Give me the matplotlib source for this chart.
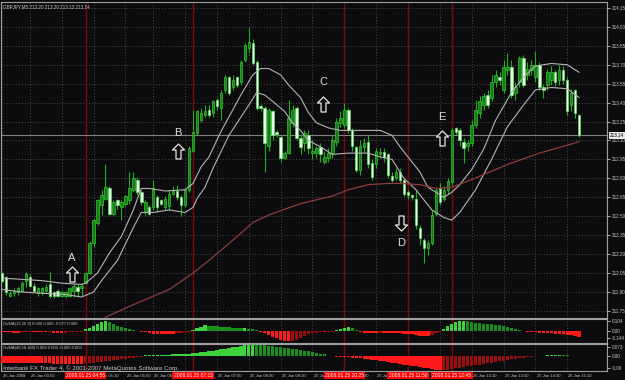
import matplotlib
matplotlib.use("Agg")
import matplotlib.pyplot as plt
import matplotlib.transforms as mtransforms
from matplotlib.path import Path
import numpy as np

plt.rcParams["font.family"] = ["Liberation Sans", "DejaVu Sans"]

# ---------------- data ----------------
header_text = "GBPJPY,M5 213.20 213.20 213.13 213.14"
osma_fast_label = "OsMA(12,26,9) 0.008 0.000 -0.077 0.000"
osma_slow_label = "OsMA(40,50,100) 0.008 0.000 -0.005 0.000"
copyright_text = "Interbank FX Trader 4, \u00a9 2001-2007 MetaQuotes Software Corp."

opens = [212.05, 212.02, 211.87, 211.89, 211.90, 211.91, 211.99, 212.02, 211.95, 211.89,
         211.90, 211.91, 211.96, 211.90, 211.91, 211.87, 211.87, 211.87, 211.91, 211.94,
         211.93, 211.97, 212.05, 212.29, 212.45, 212.59, 212.64, 212.72, 212.52, 212.63,
         212.57, 212.60, 212.63, 212.71, 212.79, 212.69, 212.53, 212.57, 212.57, 212.65,
         212.63, 212.57, 212.58, 212.68, 212.70, 212.65, 212.59, 212.71, 213.02, 213.16,
         213.26, 213.30, 213.34, 213.32, 213.42, 213.36, 213.50, 213.60, 213.52, 213.60,
         213.56, 213.74, 213.83, 213.87, 213.72, 213.37, 213.36, 213.06, 213.33, 213.17,
         213.13, 212.96, 213.00, 213.24, 213.36, 213.12, 213.08, 213.14, 213.00, 213.00,
         213.05, 212.93, 212.96, 213.00, 213.09, 213.24, 213.22, 213.34, 213.18, 213.05,
         212.87, 213.05, 213.09, 212.92, 212.91, 212.99, 213.01, 212.99, 212.82, 212.80,
         212.85, 212.79, 212.69, 212.67, 212.64, 212.41, 212.31, 212.25, 212.29, 212.52,
         212.72, 212.64, 212.71, 212.77, 213.20, 213.18, 213.09, 213.06, 213.08, 213.22,
         213.32, 213.38, 213.46, 213.44, 213.56, 213.60, 213.50, 213.66, 213.68, 213.48,
         213.56, 213.75, 213.62, 213.66, 213.60, 213.70, 213.52, 213.54, 213.58, 213.64,
         213.58, 213.66, 213.58, 213.38, 213.50, 213.30]
highs = [212.06, 212.03, 211.91, 211.93, 211.94, 211.99, 212.06, 212.04, 211.97, 211.94,
         211.94, 211.96, 212.06, 211.91, 211.92, 211.91, 211.91, 211.94, 211.97, 211.96,
         211.97, 212.06, 212.30, 212.48, 212.64, 212.71, 212.91, 212.74, 212.63, 212.64,
         212.63, 212.67, 212.85, 212.85, 212.81, 212.71, 212.63, 212.59, 212.79, 212.67,
         212.64, 212.66, 212.71, 212.74, 212.75, 212.67, 212.72, 213.06, 213.34, 213.34,
         213.36, 213.38, 213.38, 213.42, 213.44, 213.50, 213.62, 213.61, 213.62, 213.61,
         213.74, 213.87, 214.00, 213.90, 213.74, 213.39, 213.37, 213.36, 213.34, 213.18,
         213.14, 213.02, 213.42, 213.38, 213.37, 213.14, 213.18, 213.18, 213.10, 213.06,
         213.08, 213.02, 213.04, 213.14, 213.28, 213.33, 213.40, 213.36, 213.20, 213.06,
         213.10, 213.12, 213.14, 212.95, 213.04, 213.04, 213.04, 213.00, 212.85, 212.88,
         212.88, 212.80, 212.71, 212.68, 212.71, 212.43, 212.33, 212.31, 212.55, 212.72,
         212.76, 212.74, 212.80, 213.20, 213.21, 213.20, 213.12, 213.10, 213.26, 213.42,
         213.45, 213.48, 213.50, 213.62, 213.66, 213.64, 213.74, 213.79, 213.74, 213.56,
         213.77, 213.78, 213.72, 213.74, 213.81, 213.72, 213.55, 213.67, 213.69, 213.66,
         213.70, 213.69, 213.60, 213.51, 213.51, 213.31]
lows = [211.98, 211.88, 211.86, 211.87, 211.88, 211.90, 211.94, 211.94, 211.90, 211.87,
        211.88, 211.90, 211.85, 211.85, 211.86, 211.86, 211.85, 211.86, 211.86, 211.87,
        211.87, 211.96, 212.04, 212.26, 212.43, 212.51, 212.63, 212.51, 212.51, 212.56,
        212.47, 212.58, 212.60, 212.69, 212.67, 212.59, 212.51, 212.51, 212.55, 212.53,
        212.59, 212.55, 212.55, 212.67, 212.63, 212.50, 212.57, 212.69, 213.01, 213.14,
        213.25, 213.29, 213.29, 213.29, 213.34, 213.26, 213.48, 213.46, 213.50, 213.52,
        213.54, 213.72, 213.80, 213.70, 213.34, 213.33, 212.85, 213.02, 213.10, 213.13,
        212.93, 212.95, 212.99, 213.21, 213.10, 212.99, 213.02, 212.99, 212.95, 212.96,
        212.93, 212.91, 212.93, 212.96, 213.06, 213.21, 213.20, 213.16, 213.02, 212.85,
        212.83, 213.01, 212.88, 212.79, 212.88, 212.96, 212.93, 212.80, 212.77, 212.79,
        212.76, 212.66, 212.64, 212.63, 212.40, 212.27, 212.13, 212.19, 212.27, 212.50,
        212.59, 212.62, 212.68, 212.75, 213.14, 213.06, 212.92, 213.02, 213.06, 213.20,
        213.28, 213.34, 213.36, 213.41, 213.52, 213.54, 213.48, 213.62, 213.44, 213.42,
        213.52, 213.52, 213.58, 213.62, 213.56, 213.50, 213.44, 213.50, 213.54, 213.53,
        213.54, 213.55, 213.30, 213.33, 213.28, 213.13]
closes = [211.99, 211.90, 211.89, 211.91, 211.93, 211.97, 212.04, 211.95, 211.91, 211.93,
          211.93, 211.94, 211.87, 211.87, 211.87, 211.90, 211.90, 211.93, 211.95, 211.91,
          211.95, 212.05, 212.29, 212.47, 212.63, 212.67, 212.73, 212.52, 212.61, 212.59,
          212.61, 212.66, 212.72, 212.80, 212.69, 212.61, 212.61, 212.52, 212.72, 212.57,
          212.60, 212.64, 212.68, 212.71, 212.65, 212.59, 212.71, 213.04, 213.17, 213.33,
          213.32, 213.33, 213.30, 213.41, 213.37, 213.48, 213.60, 213.48, 213.58, 213.54,
          213.72, 213.86, 213.88, 213.71, 213.36, 213.36, 213.08, 213.34, 213.14, 213.15,
          212.96, 213.00, 213.28, 213.34, 213.12, 213.05, 213.16, 213.04, 213.02, 213.04,
          212.99, 212.97, 213.00, 213.10, 213.25, 213.28, 213.34, 213.18, 213.06, 212.87,
          213.06, 213.08, 212.91, 212.81, 213.02, 213.01, 212.97, 212.83, 212.79, 212.85,
          212.79, 212.68, 212.67, 212.65, 212.43, 212.33, 212.25, 212.29, 212.51, 212.71,
          212.61, 212.71, 212.78, 213.18, 213.17, 213.10, 213.04, 213.08, 213.22, 213.34,
          213.41, 213.45, 213.38, 213.56, 213.62, 213.58, 213.68, 213.68, 213.46, 213.52,
          213.75, 213.54, 213.67, 213.70, 213.70, 213.52, 213.50, 213.64, 213.64, 213.56,
          213.66, 213.58, 213.33, 213.48, 213.32, 213.14]

# moving averages (read at selected bars)
ma_upper_bars = [0, 5, 10, 15, 20, 21, 24, 27, 30, 33, 35, 37, 41, 46, 48, 50, 52, 55, 60, 63,
                 65, 67, 70, 72, 75, 77, 79, 82, 85, 90, 95, 98, 100, 102, 105, 107, 111, 113, 115, 118,
                 121, 124, 128, 131, 134, 138, 142, 145]
ma_upper = [212.01, 212.00, 211.99, 211.97, 211.96, 211.97, 212.05, 212.21, 212.34, 212.55,
            212.72, 212.72, 212.70, 212.71, 212.76, 212.89, 212.97, 213.17, 213.46, 213.62,
            213.67, 213.67, 213.62, 213.54, 213.44, 213.32, 213.24, 213.20, 213.18, 213.18,
            213.18, 213.14, 213.05, 212.97, 212.85, 212.73, 212.65, 212.69, 212.75, 212.87,
            213.03, 213.26, 213.48, 213.60, 213.69, 213.71, 213.70, 213.64]
ma_lower_bars = [0, 5, 10, 16, 20, 23, 25, 29, 33, 35, 38, 42, 46, 48, 49, 51, 53, 57, 62, 64,
                 66, 68, 71, 73, 75, 77, 80, 83, 87, 92, 95, 98, 101, 104, 108, 111, 113, 115, 119, 123,
                 127, 131, 134, 138, 142, 145]
ma_lower = [211.92, 211.90, 211.89, 211.88, 211.86, 211.90, 211.99, 212.15, 212.41, 212.53,
            212.53, 212.55, 212.53, 212.57, 212.64, 212.73, 212.88, 213.14, 213.38, 213.48,
            213.46, 213.41, 213.33, 213.24, 213.18, 213.10, 213.05, 212.99, 213.00, 213.00,
            212.97, 212.95, 212.80, 212.71, 212.55, 212.49, 212.47, 212.53, 212.71, 212.95,
            213.21, 213.38, 213.50, 213.52, 213.51, 213.44]
ma_slow_bars = [26, 33, 42, 48, 52, 58, 63, 67, 75, 83, 87, 92, 97, 100, 105, 109, 113, 118, 127, 135, 145]
ma_slow = [211.70, 211.80, 211.92, 212.05, 212.15, 212.31, 212.45, 212.51, 212.60, 212.66,
           212.71, 212.75, 212.76, 212.76, 212.75, 212.72, 212.73, 212.79, 212.91, 213.00, 213.09]

osma_fast = [-0.010, -0.012, -0.015, -0.017, -0.017, -0.015, -0.010, -0.008, -0.010, -0.012,
             -0.014, -0.015, -0.014, -0.016, -0.017, -0.017, -0.016, -0.014, -0.012, -0.010,
             -0.006,
             0.017, 0.035, 0.052, 0.073, 0.090, 0.101, 0.090, 0.073, 0.056, 0.042, 0.028, 0.017, 0.010, 0.003,
             -0.007, -0.014, -0.021, -0.028, -0.028, -0.028, -0.028, -0.028, -0.028, -0.024, -0.021, -0.014, -0.007,
             0.014, 0.028, 0.045, 0.059, 0.056, 0.052, 0.049, 0.045, 0.042, 0.038, 0.035, 0.031, 0.028, 0.028,
             0.024, 0.021, 0.010,
             -0.007, -0.024, -0.042, -0.059, -0.076, -0.090, -0.101, -0.108, -0.104, -0.090, -0.069, -0.049,
             -0.031, -0.021, -0.017, -0.014, -0.014, -0.010, -0.007,
             0.007, 0.021, 0.031, 0.038, 0.031, 0.014,
             -0.010, -0.017, -0.021, -0.021, -0.021, -0.017, -0.017, -0.017, -0.017, -0.021, -0.024, -0.028,
             -0.031, -0.035, -0.042, -0.049, -0.052, -0.056, -0.042, -0.024, -0.010,
             0.021, 0.052, 0.076, 0.094, 0.101, 0.104, 0.101, 0.094, 0.087, 0.083, 0.076, 0.073, 0.069, 0.066,
             0.059, 0.052, 0.042, 0.031, 0.021, 0.010,
             -0.003, -0.010, -0.014, -0.014, -0.017, -0.017, -0.021, -0.024, -0.028, -0.031, -0.035, -0.038,
             -0.045, -0.052, -0.059]
osma_slow = [-0.040, -0.041, -0.042, -0.043, -0.043, -0.044, -0.044, -0.044, -0.045, -0.045,
             -0.045, -0.045, -0.045, -0.046, -0.046, -0.046, -0.046, -0.046, -0.046, -0.046, -0.046,
             -0.045, -0.043, -0.040, -0.037, -0.034, -0.031, -0.028, -0.025, -0.022, -0.019, -0.016,
             -0.013, -0.010, -0.007, -0.004,
             0.003, 0.004, 0.005, 0.006, 0.007, 0.008, 0.009, 0.010, 0.011, 0.012, 0.013, 0.015, 0.018,
             0.021, 0.024, 0.027, 0.030, 0.033, 0.036, 0.040, 0.044, 0.048, 0.052, 0.056, 0.060, 0.064,
             0.067, 0.070,
             0.069, 0.067, 0.064, 0.061, 0.058, 0.055, 0.052, 0.049, 0.046, 0.043, 0.040, 0.036, 0.032,
             0.028, 0.024, 0.020, 0.015, 0.010,
             -0.002, -0.003, -0.004, -0.005, -0.006, -0.008, -0.010, -0.012, -0.014, -0.016, -0.019,
             -0.022, -0.025, -0.029, -0.032, -0.036, -0.040, -0.044, -0.048, -0.052, -0.056, -0.060,
             -0.064, -0.068, -0.072, -0.076, -0.080, -0.084, -0.088,
             -0.087, -0.084, -0.080, -0.076, -0.072, -0.068, -0.064, -0.060, -0.056, -0.052, -0.048,
             -0.044, -0.040, -0.036, -0.032, -0.028, -0.024, -0.020, -0.016, -0.013, -0.010, -0.007,
             -0.004, -0.002,
             0.001, 0.002, 0.003, 0.004, 0.005, 0.005, 0.004, 0.003, 0.001, -0.001, -0.003]

price_ticks = [214.15, 214.00, 213.85, 213.70, 213.55, 213.40, 213.25, 213.10, 212.95,
               212.80, 212.65, 212.50, 212.35, 212.20, 212.05, 211.90, 211.75]
last_price = 213.14

fast_ticks = [0.104, 0.0, -0.073]
fast_tick_labels = ["0.104", "0.00", "-0.144"]
slow_ticks = [0.0547, 0.0, -0.0734]
slow_tick_labels = ["0.073", "0.00", "-0.09"]

grid_bars = [0, 7, 15, 23, 31, 38, 46, 54, 62, 70, 78, 86, 94, 102, 110, 118, 126, 134, 142]
time_label_bars = [0, 7, 23, 31, 38, 54, 62, 70, 78, 86, 94, 118, 126, 134, 142]
time_labels = ["25 Jan 2008", "25 Jan 03:50", "25 Jan 05:10", "25 Jan 05:50",
               "25 Jan 06:30", "25 Jan 07:50", "25 Jan 08:30", "25 Jan 09:10",
               "25 Jan 09:50", "25 Jan 10:30", "25 Jan 11:10",
               "25 Jan 13:10", "25 Jan 13:50", "25 Jan 14:30", "25 Jan 15:10"]

event_bars = [21, 48, 86, 102, 113]
event_labels = ["2008.01.25 04:55", "2008.01.25 07:15", "2008.01.25 10:25",
                "2008.01.25 11:50", "2008.01.25 12:45"]

sign_letters = ["A", "B", "C", "D", "E"]
sign_bars = [17.6, 44.2, 80.7, 100.3, 110.6]
sign_arrow_prices = [212.04, 213.02, 213.39, 212.45, 213.12]
sign_letter_prices = [212.17, 213.16, 213.56, 212.29, 213.29]
sign_up = [True, True, True, False, True]

# ---------------- style ----------------
W, H = 625, 380
BG = "#0c0c0e"
GRID = "#4a4a4a"
TXT = "#c8c8c8"
WICK = "#1fae1f"
BULL_FACE = "#1c7a1c"
BULL_EDGE = "#2ccc2c"
BEAR_FACE = "#eaffea"
BEAR_EDGE = "#5ee05e"
EVENT = "#7a0a0a"
SMALL = 3.3

fig = plt.figure(figsize=(W / 100, H / 100), dpi=100, facecolor=BG)


def px_box(x0, y0, x1, y1):
    return [x0 / W, 1 - y1 / H, (x1 - x0) / W, (y1 - y0) / H]


ax = fig.add_axes(px_box(1, 2, 607, 318))
ax1 = fig.add_axes(px_box(1, 319, 607, 343), sharex=ax)
ax2 = fig.add_axes(px_box(1, 344, 607, 371), sharex=ax)

for a in (ax, ax1, ax2):
    a.set_facecolor(BG)
    for s in a.spines.values():
        s.set_color("#a0a0a0")
        s.set_linewidth(0.8)
    a.yaxis.tick_right()
    a.tick_params(axis="y", colors=TXT, labelsize=SMALL, length=2, width=0.6, pad=1.2)
    a.tick_params(axis="x", bottom=False, labelbottom=False)
    for b in grid_bars:
        a.axvline(b, color=GRID, lw=0.7, ls=(0, (1, 2)), zorder=0)
    for b in event_bars:
        a.axvline(b, color=EVENT, lw=1.0, zorder=1)

n = len(opens)
idx = np.arange(n)
o = np.array(opens)
c = np.array(closes)
hi = np.array(highs)
lo = np.array(lows)
up = c >= o

ax.set_xlim(-0.25, 152.0)
ax.set_ylim(211.694, 214.197)
ax.set_yticks(price_ticks)
ax.set_yticklabels([f"{p:.2f}" for p in price_ticks])
for p in price_ticks:
    ax.axhline(p, color=GRID, lw=0.7, ls=(0, (1, 2)), zorder=0)

ax.axhline(last_price, color="#808080", lw=0.8, zorder=1)

ax.vlines(idx, lo, hi, color=WICK, lw=0.8, zorder=3)
body_bottom = np.minimum(o, c)
body_h = np.maximum(np.abs(c - o), 0.006)
ax.bar(idx[up], body_h[up], bottom=body_bottom[up], width=0.62, color=BULL_FACE,
       edgecolor=BULL_EDGE, linewidth=0.5, zorder=4)
ax.bar(idx[~up], body_h[~up], bottom=body_bottom[~up], width=0.62, color=BEAR_FACE,
       edgecolor=BEAR_EDGE, linewidth=0.5, zorder=4)

ax.plot(ma_upper_bars, ma_upper, color="#b4b4b4", lw=0.8, zorder=5)
ax.plot(ma_lower_bars, ma_lower, color="#b4b4b4", lw=0.8, zorder=5)
ax.plot(ma_slow_bars, ma_slow, color="#8e3c3c", lw=0.9, zorder=5)

up_arrow = Path([(0, 1), (0.8, 0.2), (0.33, 0.2), (0.33, -1), (-0.33, -1), (-0.33, 0.2),
                 (-0.8, 0.2), (0, 1)],
                [Path.MOVETO] + [Path.LINETO] * 6 + [Path.CLOSEPOLY])
down_arrow = Path([(0, -1), (0.8, -0.2), (0.33, -0.2), (0.33, 1), (-0.33, 1), (-0.33, -0.2),
                   (-0.8, -0.2), (0, -1)],
                  [Path.MOVETO] + [Path.LINETO] * 6 + [Path.CLOSEPOLY])
for letter, b, pa, pl, isup in zip(sign_letters, sign_bars, sign_arrow_prices,
                                   sign_letter_prices, sign_up):
    ax.plot([b], [pa], marker=up_arrow if isup else down_arrow, ms=10.8, mfc=BG,
            mec="#e6e6e6", mew=0.9, ls="none", zorder=7)
    ax.text(b, pl, letter, color="#dcdcdc", fontsize=8, ha="center", va="center", zorder=7)

ax.text(0.004, 0.986, header_text, transform=ax.transAxes, color=TXT, fontsize=3.3,
        ha="left", va="center")
ax.text(1.0045, last_price, f"{last_price:.2f}", transform=ax.get_yaxis_transform(),
        fontsize=SMALL, color="black", va="center", ha="left", clip_on=False,
        bbox=dict(fc="#e8e8e8", ec="none", pad=0.5), zorder=10)


def osma_colors(vals):
    cols = []
    prev = 0.0
    for v in vals:
        if v >= 0:
            cols.append("#3fd23f" if v >= prev else "#1b8f1b")
        else:
            cols.append("#ff1a1a" if v <= prev else "#9a0d0d")
        prev = v
    return cols


ax1.bar(idx, osma_fast, width=0.85, color=osma_colors(osma_fast), linewidth=0, zorder=3)
ax1.set_ylim(-0.125, 0.125)
ax1.set_yticks(fast_ticks)
ax1.set_yticklabels(fast_tick_labels)
ax1.text(0.003, 0.79, osma_fast_label, transform=ax1.transAxes, color=TXT, fontsize=3.0,
         ha="left", va="center")

ax2.bar(idx, osma_slow, width=0.85, color=osma_colors(osma_slow), linewidth=0, zorder=3)
ax2.set_ylim(-0.0915, 0.073)
ax2.set_yticks(slow_ticks)
ax2.set_yticklabels(slow_tick_labels)
ax2.text(0.003, 0.85, osma_slow_label, transform=ax2.transAxes, color=TXT, fontsize=3.0,
         ha="left", va="center")
ax2.text(0.003, 0.12, copyright_text, transform=ax2.transAxes, color=TXT, fontsize=4.4,
         ha="left", va="center", zorder=8)

tt = mtransforms.blended_transform_factory(ax2.transData, ax2.transAxes)
for b, lab in zip(time_label_bars, time_labels):
    ax2.text(b + 0.3, -0.17, lab, transform=tt, color=TXT, fontsize=3.0, ha="left",
             va="center", clip_on=False, zorder=2)
for b, lab in zip(event_bars, event_labels):
    ax2.text(b, -0.17, lab, transform=tt, color="white", fontsize=3.6, ha="center",
             va="center", clip_on=False, zorder=9,
             bbox=dict(fc="#ff0000", ec="none", pad=0.9))

fig.savefig("out.png", dpi=100, facecolor=BG)
